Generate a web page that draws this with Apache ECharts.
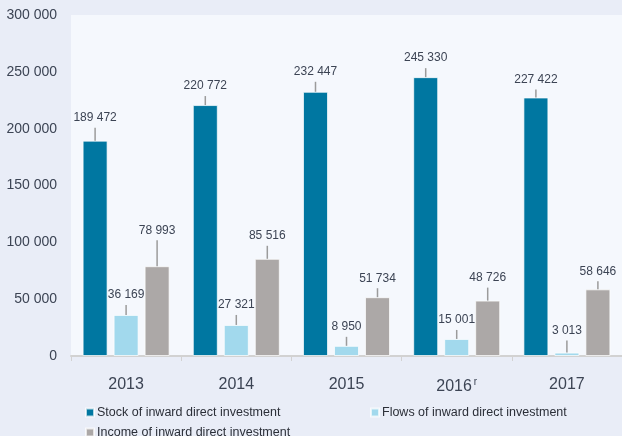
<!DOCTYPE html>
<html>
<head>
<meta charset="utf-8">
<script src="https://cdn.jsdelivr.net/npm/echarts@6/dist/echarts.min.js"></script>
<style>
  html, body { margin: 0; padding: 0; background: #e9edf7; }
  #chart { width: 622px; height: 436px; }
</style>
</head>
<body>
<div id="chart"></div>
<script>
// data
const years = ['2013', '2014', '2015', '2016', '2017'];
const stock = [189472, 220772, 232447, 245330, 227422];
const flows = [36169, 27321, 8950, 15001, 3013];
const income = [78993, 85516, 51734, 48726, 58646];
const yTicks = [0, 50000, 100000, 150000, 200000, 250000, 300000];

// leader line lengths above each bar (px)
const stockLead = [13, 9, 10, 9, 8];
const flowsLead = [10, 10, 9, 9, 12];
const incomeLead = [26, 13, 9, 13, 8];

const textColor = '#3c4454';
const sans = '"Liberation Sans", Arial, sans-serif';

const fmt = (n) => String(n).replace(/\B(?=(\d{3})+(?!\d))/g, ' ');

const makeLabel = (leads) => ({
  show: true,
  position: 'top',
  distance: 0,
  align: 'center',
  formatter: (p) => '{v|' + fmt(p.value) + '}\n{l' + p.dataIndex + '|}',
  rich: Object.assign({
    v: { fontFamily: sans, fontSize: 12, color: textColor, lineHeight: 20, align: 'center' }
  }, Object.fromEntries(leads.map((h, i) => ['l' + i, {
    width: 1.5, height: h, backgroundColor: '#9b9b9b', align: 'center'
  }])))
});

const makeSeries = (name, data, color, leads) => ({
  name: name,
  type: 'bar',
  data: data,
  barWidth: 25,
  barGap: '24%',
  itemStyle: { color: color, borderColor: 'rgba(255,255,255,0.7)', borderWidth: 1 },
  label: makeLabel(leads),
  emphasis: { disabled: true }
});

const legendItem = (name, left, top) => ({
  data: [name],
  left: left, top: top,
  itemWidth: 8, itemHeight: 8,
  icon: 'rect',
  selectedMode: false,
  textStyle: { fontFamily: sans, fontSize: 12.5, color: '#2b2f38', padding: [0, 0, 0, -2] }
});

const chart = echarts.init(document.getElementById('chart'));
chart.setOption({
  backgroundColor: '#e9edf7',
  animation: false,
  grid: {
    left: 71, right: 0, top: 15, bottom: 80,
    show: true, backgroundColor: '#f5f8fd', borderWidth: 0
  },
  legend: [
    legendItem('Stock of inward direct investment', 80, 401),
    legendItem('Flows of inward direct investment', 365, 401),
    legendItem('Income of inward direct investment', 80, 421)
  ],
  xAxis: {
    type: 'category',
    data: years,
    axisLine: { lineStyle: { color: '#d2d2d2', width: 2 } },
    axisTick: { show: true, length: 5, lineStyle: { color: '#d2d2d2', width: 1 } },
    axisLabel: {
      margin: 21,
      fontFamily: sans,
      fontSize: 16,
      color: textColor,
      formatter: (v) => v === '2016' ? v + '{sup|r}' : v,
      rich: {
        sup: { fontSize: 10, color: textColor, padding: [0, 0, 10, 2] }
      }
    }
  },
  yAxis: {
    type: 'value',
    min: yTicks[0],
    max: yTicks[yTicks.length - 1],
    interval: yTicks[1] - yTicks[0],
    splitLine: { show: false },
    axisLine: { show: false },
    axisTick: { show: false },
    axisLabel: {
      margin: 14,
      fontFamily: sans,
      fontSize: 14,
      color: textColor,
      formatter: (v) => fmt(v)
    }
  },
  series: [
    makeSeries('Stock of inward direct investment', stock, '#0077a1', stockLead),
    makeSeries('Flows of inward direct investment', flows, '#a2d9ed', flowsLead),
    makeSeries('Income of inward direct investment', income, '#aca8a7', incomeLead)
  ]
});
</script>
</body>
</html>
